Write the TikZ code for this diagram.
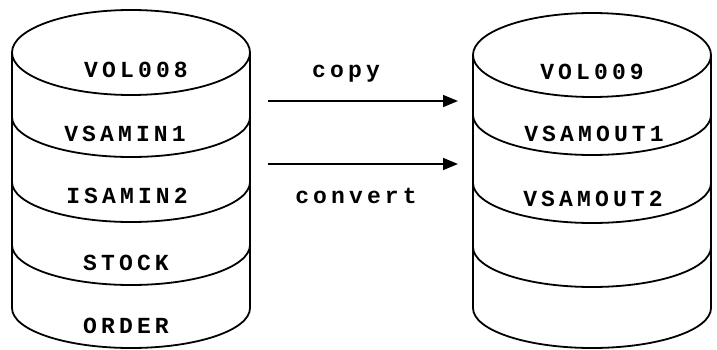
\documentclass[tikz,border=0pt]{standalone}
\usepackage{fontspec}
\setmonofont[LetterSpace=18]{Liberation Mono}
\usetikzlibrary{arrows.meta}
\begin{document}
\begin{tikzpicture}[x=1pt,y=-1pt,
  outline/.style={line width=1.8pt,line join=round},
  label/.style={font=\ttfamily\bfseries\fontsize{23}{26}\selectfont,inner sep=0pt,anchor=base},
  flow/.style={line width=1.6pt,-{Triangle[length=15pt,width=12pt]}}]
\useasboundingbox (0,0) rectangle (717,350);

% left volume: VOL008
\draw[outline] (131,52.5) ellipse [x radius=119,y radius=42.5];
\draw[outline] (12,52.5) -- (12,308) arc [start angle=180,end angle=0,x radius=119,y radius=40] -- (250,52.5);
\foreach \c in {117,182,245}
  \draw[outline] (12,\c) arc [start angle=180,end angle=0,x radius=119,y radius=40];

% right volume: VOL009
\draw[outline] (592,55) ellipse [x radius=119,y radius=42];
\draw[outline] (473,55) -- (473,308) arc [start angle=180,end angle=0,x radius=119,y radius=40] -- (711,55);
\foreach \c in {115,183,247}
  \draw[outline] (473,\c) arc [start angle=180,end angle=0,x radius=119,y radius=40];

% data set names
\node[label] (vol8) at (136,78) {VOL008};
\node[label] (vin1) at (125,141) {VSAMIN1};
\node[label] (isin2) at (127,203) {ISAMIN2};
\node[label] (stock) at (126,270) {STOCK};
\node[label] (order) at (126,333) {ORDER};
\node[label] (vol9) at (592,80) {VOL009};
\node[label] (vout1) at (594,141) {VSAMOUT1};
\node[label] (vout2) at (593,206) {VSAMOUT2};

% operations
\coordinate (c1) at (268,101);
\coordinate (c2) at (458,101);
\coordinate (v1) at (268,164);
\coordinate (v2) at (458,164);
\draw[flow] (c1) -- (c2);
\draw[flow] (v1) -- (v2);
\node[label] (copy) at (346,78) {copy};
\node[label] (convert) at (356,203) {convert};
\end{tikzpicture}
\end{document}
